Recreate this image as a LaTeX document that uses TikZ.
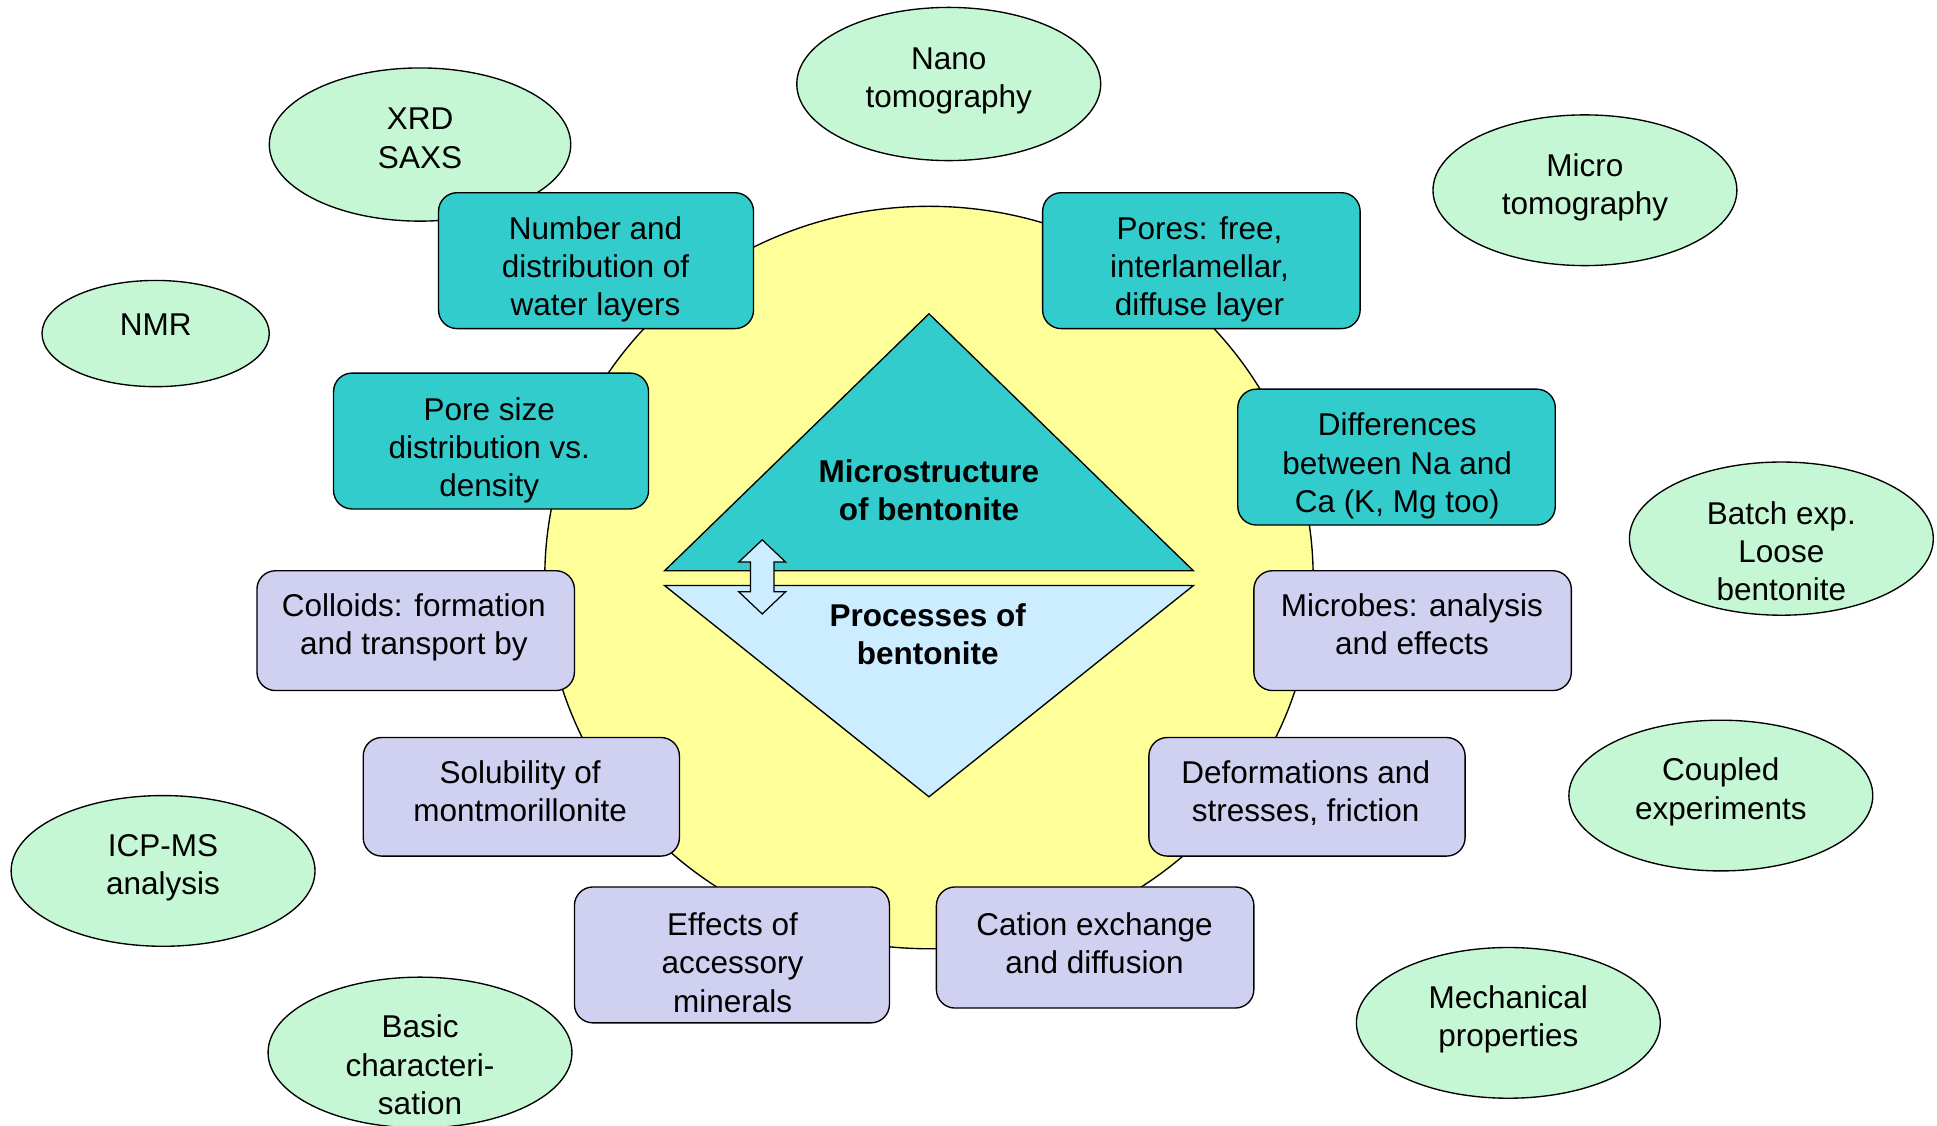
\documentclass[tikz,border=0pt]{standalone}
\usepackage{fontspec}
\setmainfont{Liberation Sans}
\usetikzlibrary{shapes.geometric}
\definecolor{cMint}{RGB}{198,247,212}
\definecolor{cYellow}{RGB}{255,255,153}
\definecolor{cTeal}{RGB}{51,204,204}
\definecolor{cLav}{RGB}{208,208,240}
\definecolor{cLight}{RGB}{204,236,255}
\begin{document}
\begin{tikzpicture}[x=1pt,y=-1pt,
  ell/.style={ellipse, draw=black, line width=1.1pt, fill=cMint, inner sep=0pt},
  tealbox/.style={rectangle, rounded corners=15pt, draw=black, line width=1.1pt, fill=cTeal, inner sep=0pt},
  lavbox/.style={rectangle, rounded corners=15pt, draw=black, line width=1.1pt, fill=cLav, inner sep=0pt},
  txt/.style={align=center, font=\fontsize{25.5}{31}\selectfont, inner sep=0pt},
  btxt/.style={align=center, font=\fontsize{25.5}{31}\selectfont\bfseries, inner sep=0pt},
  shapeline/.style={draw=black, line width=1.1pt}]
\useasboundingbox (0,0) rectangle (1568,911);
\fill[white] (0,0) rectangle (1568,911);

% central circle
\node[ellipse, draw=black, line width=1.1pt, fill=cYellow, minimum width=622pt, minimum height=601pt, inner sep=0pt] (circ) at (752,467.5) {};

% ellipses
\node[ell, minimum width=246pt, minimum height=124pt] (nanoE) at (768,68) {};
\node[txt] (nanoT) at (768,65.5) {\strut Nano\\tomography\strut};
\node[ell, minimum width=244pt, minimum height=124pt] (xrdE) at (340,117) {};
\node[txt] (xrdT) at (340,114.5) {\strut XRD\\SAXS\strut};
\node[ell, minimum width=246pt, minimum height=122pt] (microE) at (1283,154) {};
\node[txt] (microT) at (1283,152) {\strut Micro\\tomography\strut};
\node[ell, minimum width=184pt, minimum height=86pt] (nmrE) at (126,270) {};
\node[txt] (nmrT) at (126,265) {\strut NMR\strut};
\node[ell, minimum width=246pt, minimum height=124pt] (batchE) at (1442,436) {};
\node[txt] (batchT) at (1442,449) {\strut Batch exp.\\Loose\\bentonite\strut};
\node[ell, minimum width=246pt, minimum height=122pt] (coupE) at (1393,644) {};
\node[txt] (coupT) at (1393,641.5) {\strut Coupled\\experiments\strut};
\node[ell, minimum width=246pt, minimum height=122pt] (icpE) at (132,705) {};
\node[txt] (icpT) at (132,702.5) {\strut ICP-MS\\analysis\strut};
\node[ell, minimum width=246pt, minimum height=122pt] (mechE) at (1221,828) {};
\node[txt] (mechT) at (1221,825.5) {\strut Mechanical\\properties\strut};
\node[ell, minimum width=246pt, minimum height=122pt] (basicE) at (340,852) {};
\node[txt] (basicT) at (340,865) {\strut Basic\\characteri-\\sation\strut};

% teal boxes
\node[tealbox, minimum width=255pt, minimum height=110pt] (b1) at (482.5,211) {};
\node[txt] (b1t) at (482,218.5) {\strut Number and\\distribution of\\water layers\strut};
\node[tealbox, minimum width=257pt, minimum height=110pt] (b2) at (972.5,211) {};
\node[txt] (b2t) at (971,218.5) {\strut Pores: free,\\interlamellar,\\diffuse layer\strut};
\node[tealbox, minimum width=255pt, minimum height=110pt] (b3) at (397.5,357) {};
\node[txt] (b3t) at (396,365) {\strut Pore size\\distribution vs.\\density\strut};
\node[tealbox, minimum width=257pt, minimum height=110pt] (b4) at (1130.5,370) {};
\node[txt] (b4t) at (1131,377.5) {\strut Differences\\between Na and\\Ca (K, Mg too)\strut};

% lavender boxes
\node[lavbox, minimum width=257pt, minimum height=97pt] (b5) at (336.5,510.5) {};
\node[txt] (b5t) at (335,508.5) {\strut Colloids: formation\\and transport by\strut};
\node[lavbox, minimum width=257pt, minimum height=97pt] (b6) at (1143.5,510.5) {};
\node[txt] (b6t) at (1143,508.5) {\strut Microbes: analysis\\and effects\strut};
\node[lavbox, minimum width=256pt, minimum height=96pt] (b7) at (422,645) {};
\node[txt] (b7t) at (421,643.5) {\strut Solubility of\\montmorillonite\strut};
\node[lavbox, minimum width=256pt, minimum height=96pt] (b8) at (1058,645) {};
\node[txt] (b8t) at (1057,643.5) {\strut Deformations and\\stresses, friction\strut};
\node[lavbox, minimum width=255pt, minimum height=110pt] (b9) at (592.5,773) {};
\node[txt] (b9t) at (593,782) {\strut Effects of\\accessory\\minerals\strut};
\node[lavbox, minimum width=257pt, minimum height=98pt] (b10) at (886.5,767) {};
\node[txt] (b10t) at (886,766.5) {\strut Cation exchange\\and diffusion\strut};

% central triangles
\path[shapeline, fill=cTeal] (752,254) -- (966,462) -- (538,462) -- cycle;
\path[shapeline, fill=cLight] (538,474) -- (966,474) -- (752,645) -- cycle;
\node[btxt] (microT2) at (752,399.5) {\strut Microstructure\\of bentonite\strut};
\node[btxt] (procT) at (751,516.5) {\strut Processes of\\bentonite\strut};

% double arrow
\path[shapeline, fill=cLight, line width=1pt] (617,437) -- (636,455) -- (626.5,455) -- (626.5,479) -- (636,479) -- (617,497) -- (598,479) -- (607.5,479) -- (607.5,455) -- (598,455) -- cycle;
\end{tikzpicture}
\end{document}
